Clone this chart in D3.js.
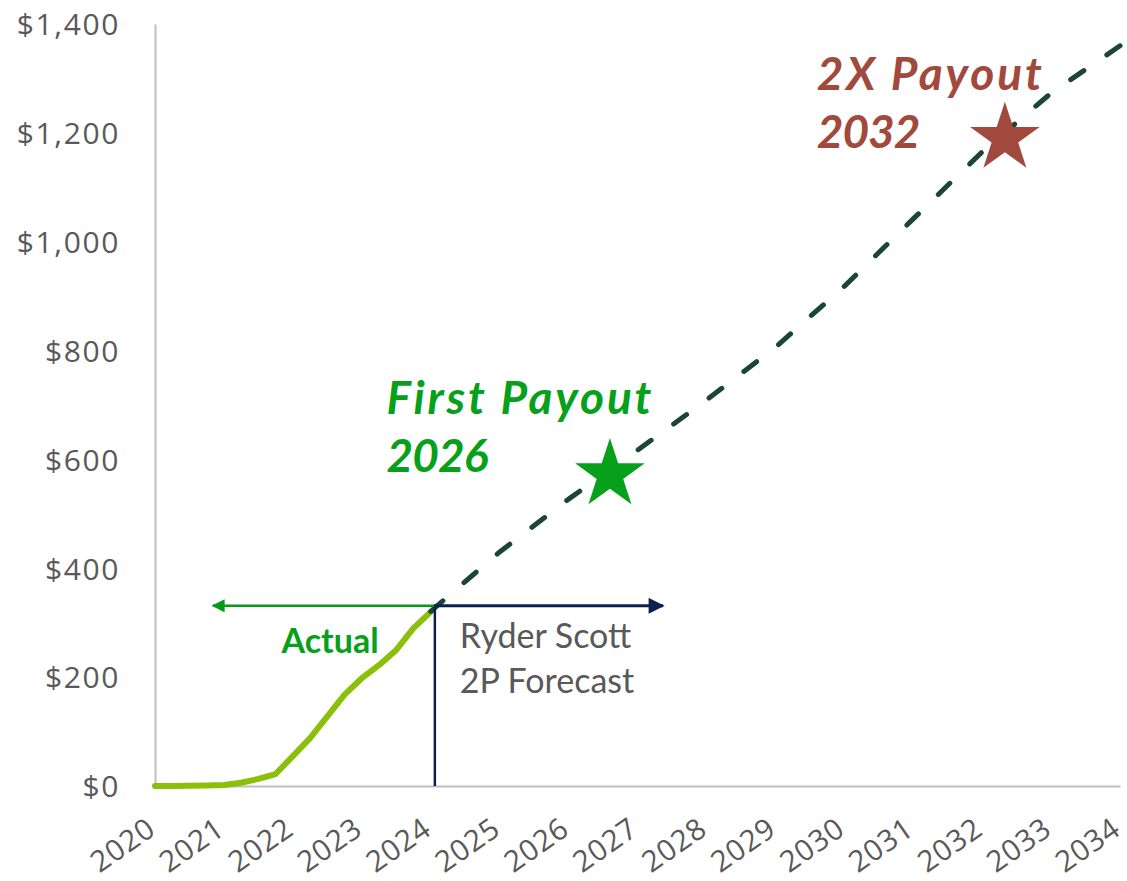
<!DOCTYPE html>
<html>
<head>
<meta charset="utf-8">
<script src="https://cdn.jsdelivr.net/npm/d3@7"></script>
<style>
  html, body { margin: 0; padding: 0; background: #ffffff; }
  svg { display: block; }
</style>
</head>
<body>
<div id="chart"></div>
<script>
// ---------- data ----------
const yearTicks = [2020, 2021, 2022, 2023, 2024, 2025, 2026, 2027, 2028, 2029, 2030, 2031, 2032, 2033, 2034];
const valueTicks = [0, 200, 400, 600, 800, 1000, 1200, 1400];

// Actual (quarterly, $ millions)
const actualPeriods = [2020, 2020.25, 2020.5, 2020.75, 2021, 2021.25, 2021.5, 2021.75, 2022, 2022.25, 2022.5, 2022.75, 2023, 2023.25, 2023.5, 2023.75, 2024];
const actualValues  = [0, 0, 0.5, 1, 2, 6, 13, 22, 55, 88, 128, 168, 198, 222, 250, 290, 320];

// Ryder Scott 2P forecast (annual)
const forecastYears  = [2024, 2025, 2026, 2027, 2028, 2029, 2030, 2031, 2032, 2033, 2034];
const forecastValues = [321, 430, 527, 617, 709, 806, 918, 1042, 1165, 1273, 1360];

// Payout markers
const payoutLabels = ["First Payout", "2X Payout"];
const payoutYears  = ["2026", "2032"];
const payoutX      = [2026.6, 2032.33];
const payoutValue  = [572, 1190];

// Divider between actual and forecast
const splitYear  = 2024.06;
const splitValue = 331;
const actualArrowEnd   = 2020.84;
const forecastArrowEnd = 2027.37;

// ---------- layout ----------
const W = 1127, H = 881;
const svg = d3.select("#chart").append("svg").attr("width", W).attr("height", H);

const x = d3.scaleLinear().domain([2020, 2034]).range([155, 1120]);
const y = d3.scaleLinear().domain([0, 1400]).range([786, 24]);

const GRAY_TXT = "#595959";
const AXIS = "#BFBFBF";
const LIME = "#8CBF0A";
const DARK = "#1B4536";
const ARROW_GREEN = "#059A1B";
const NAVY = "#0C1F4F";
const BRICK = "#A2493E";
const LABEL_GREEN = "#06A01A";

const defs = svg.append("defs");
function marker(id, color, w, h) {
  defs.append("marker")
    .attr("id", id).attr("viewBox", "0 0 10 10")
    .attr("refX", 9).attr("refY", 5)
    .attr("markerUnits", "userSpaceOnUse")
    .attr("markerWidth", w).attr("markerHeight", h)
    .attr("orient", "auto")
    .append("path").attr("d", "M0,0 L10,5 L0,10 Z").attr("fill", color);
}
marker("arrGreen", ARROW_GREEN, 16, 13);
marker("arrNavy", NAVY, 17, 16);

// ---------- axes ----------
const yAxis = d3.axisLeft(y).tickValues(valueTicks).tickSize(0).tickPadding(35)
  .tickFormat(d => "$" + d3.format(",")(d));
const gy = svg.append("g").attr("transform", `translate(${x(2020)},0)`).call(yAxis);
gy.select(".domain").attr("stroke", AXIS).attr("stroke-width", 2);
gy.selectAll("text")
  .attr("fill", GRAY_TXT)
  .style("font-family", "'Open Sans', sans-serif")
  .style("font-size", "30px")
  .style("letter-spacing", "1.6px")
  .attr("dy", "0.36em");

const xAxis = d3.axisBottom(x).tickValues(yearTicks).tickSize(0).tickFormat(d3.format("d"));
const gx = svg.append("g").attr("transform", `translate(0,${y(0)})`).call(xAxis);
gx.select(".domain").attr("stroke", AXIS).attr("stroke-width", 2);
gx.selectAll("text")
  .attr("fill", GRAY_TXT)
  .style("font-family", "'Open Sans', sans-serif")
  .style("font-size", "29.5px")
  .style("letter-spacing", "0.8px")
  .attr("text-anchor", "end")
  .attr("y", 0).attr("dy", 0)
  .attr("transform", "translate(2,47) rotate(-35)");

// ---------- series ----------
const actualData = actualPeriods.map((p, i) => [p, actualValues[i]]);
const forecastData = forecastYears.map((p, i) => [p, forecastValues[i]]);
const line = d3.line().x(d => x(d[0])).y(d => y(d[1]));

svg.append("path").datum(actualData)
  .attr("d", line)
  .attr("fill", "none").attr("stroke", LIME).attr("stroke-width", 6)
  .attr("stroke-linejoin", "round").attr("stroke-linecap", "round");

const fPath = svg.append("path").datum(forecastData)
  .attr("d", line)
  .attr("fill", "none").attr("stroke", DARK).attr("stroke-width", 5)
  .attr("stroke-linejoin", "round").attr("stroke-linecap", "round");
// fit dash pattern so a dash sits at both ends
const L = fPath.node().getTotalLength();
const dash = 16;
const n = Math.round((L - dash) / 43);
const gap = (L - (n + 1) * dash) / n;
fPath.attr("stroke-dasharray", `${dash},${gap}`);

// ---------- divider + arrows ----------
svg.append("line")
  .attr("x1", x(splitYear)).attr("x2", x(splitYear))
  .attr("y1", y(splitValue)).attr("y2", y(0))
  .attr("stroke", NAVY).attr("stroke-width", 2.5);

svg.append("line")
  .attr("x1", x(splitYear)).attr("x2", x(actualArrowEnd))
  .attr("y1", y(splitValue)).attr("y2", y(splitValue))
  .attr("stroke", ARROW_GREEN).attr("stroke-width", 2.5)
  .attr("marker-end", "url(#arrGreen)");

svg.append("line")
  .attr("x1", x(splitYear) - 1).attr("x2", x(forecastArrowEnd))
  .attr("y1", y(splitValue)).attr("y2", y(splitValue))
  .attr("stroke", NAVY).attr("stroke-width", 3)
  .attr("marker-end", "url(#arrNavy)");

// ---------- labels ----------
svg.append("text")
  .attr("x", x(2022.54)).attr("y", y(244))
  .attr("text-anchor", "middle")
  .attr("fill", LABEL_GREEN)
  .style("font-family", "Lato, sans-serif").style("font-weight", 700)
  .style("font-size", "34px")
  .text("Actual");

const rs = svg.append("text")
  .attr("x", x(2024.42)).attr("y", y(253))
  .attr("fill", GRAY_TXT)
  .style("font-family", "Lato, sans-serif")
  .style("font-size", "34px");
rs.append("tspan").attr("x", x(2024.42)).text("Ryder Scott");
rs.append("tspan").attr("x", x(2024.42)).attr("dy", 45).text("2P Forecast");

// ---------- payout stars & labels ----------
const star = d3.symbol().type(d3.symbolStar).size(1500);
const payoutColors = [LABEL_GREEN, BRICK];
payoutX.forEach((px, i) => {
  svg.append("path")
    .attr("d", star)
    .attr("transform", `translate(${x(px)},${y(payoutValue[i])})`)
    .attr("fill", payoutColors[i]);
});

const labelPos = [[2023.36, 683, 2023.36, 576], [2029.6, 1278, 2029.6, 1172]];
payoutLabels.forEach((lbl, i) => {
  const t = svg.append("text")
    .attr("fill", payoutColors[i])
    .style("font-family", "Lato, sans-serif")
    .style("font-weight", 700).style("font-style", "italic")
    .style("font-size", "46px");
  t.append("tspan").attr("x", x(labelPos[i][0])).attr("y", y(labelPos[i][1]))
    .style("letter-spacing", "2.8px").text(lbl);
  t.append("tspan").attr("x", x(labelPos[i][2])).attr("y", y(labelPos[i][3]))
    .style("letter-spacing", "-1px").text(payoutYears[i]);
});
</script>
</body>
</html>
